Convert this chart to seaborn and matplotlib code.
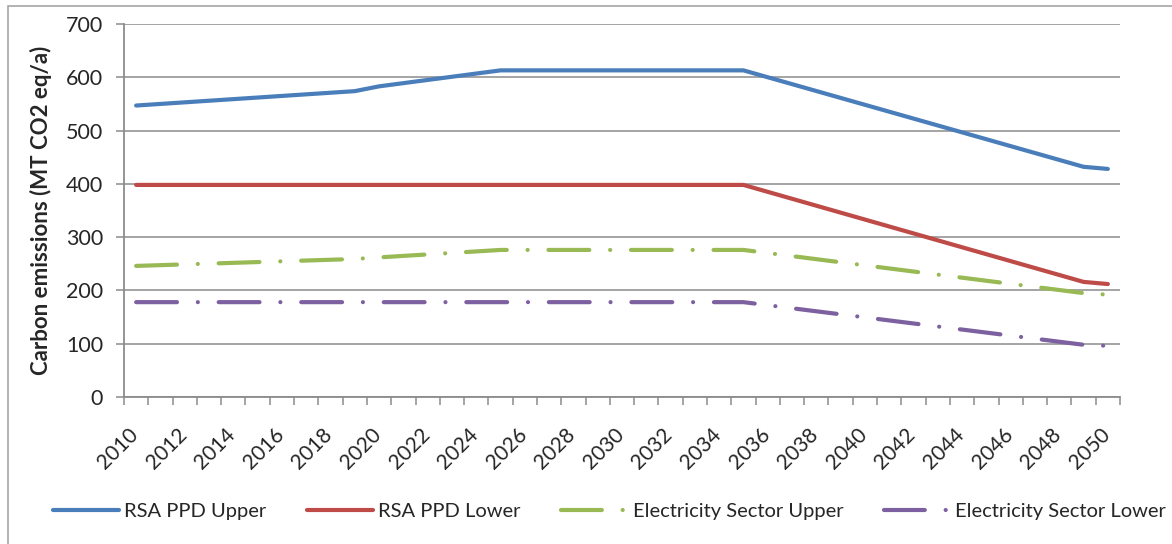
import numpy as np
import pandas as pd
import matplotlib
matplotlib.use("Agg")
import matplotlib.pyplot as plt
import matplotlib.transforms as mtransforms
from matplotlib.patches import Rectangle
import seaborn as sns

# Values (break points of each series)
upper_years = [2010, 2019, 2020, 2025, 2035, 2049, 2050]
rsa_upper = [547, 574, 583, 613, 613, 432, 428]
lower_years = [2010, 2035, 2049, 2050]
rsa_lower = [398, 398, 216, 212]
elec_upper = [246, 259, 262, 276, 276, 195, 192]
elec_lower = [178, 178, 98, 96]

series_names = ["RSA PPD Upper", "RSA PPD Lower",
                "Electricity Sector Upper", "Electricity Sector Lower"]
colors = ["#4A7EBB", "#BE4B48", "#98B954", "#7D60A0"]
x_labels = [str(y) for y in range(2010, 2051, 2)]

sns.set_theme(style="white")
plt.rcParams["font.family"] = ["Lato", "DejaVu Sans"]
plt.rcParams["lines.dash_capstyle"] = "round"
plt.rcParams["lines.solid_capstyle"] = "round"

fig = plt.figure(figsize=(11.72, 5.44), dpi=100)
ax = fig.add_axes([124 / 1172, 1 - 397 / 544, 996 / 1172, 373 / 544])

grid_col = "#8C8C8C"
for v in range(0, 701, 100):
    ax.axhline(v, color=grid_col, lw=1.1, zorder=0)

lw = 3.0
dash_dot = (9.8, 5.0, 0.01, 5.0)
data = [
    (upper_years, rsa_upper, None),
    (lower_years, rsa_lower, None),
    (upper_years, elec_upper, dash_dot),
    (lower_years, elec_lower, dash_dot),
]
for (xs, ys, dash), name, col in zip(data, series_names, colors):
    df = pd.DataFrame({"year": xs, "value": ys})
    sns.lineplot(data=df, x="year", y="value", ax=ax, color=col, lw=lw,
                 label=name, legend=False, zorder=3)
    if dash is not None:
        ax.get_lines()[-1].set_dashes(dash)

ax.set_xlim(2009.5, 2050.5)
ax.set_ylim(0, 700)
ax.set_yticks(range(0, 701, 100))
ax.set_xticks(range(2010, 2051, 2))
ax.set_xticklabels(x_labels, rotation=45, ha="right", fontsize=15)
ax.set_xticks(np.arange(2009.5, 2051, 1), minor=True)
ax.tick_params(axis="x", which="major", length=0, pad=20)
ax.tick_params(axis="x", which="minor", length=6, width=1.1, color=grid_col,
               direction="out", bottom=True)
ax.tick_params(axis="y", length=6, width=1.1, color=grid_col, direction="out",
               left=True, labelsize=15.5, pad=9)

shift = mtransforms.ScaledTranslation(6 / 100, 0, fig.dpi_scale_trans)
for lab in ax.get_xticklabels():
    lab.set_transform(lab.get_transform() + shift)

for s in ["top", "right"]:
    ax.spines[s].set_visible(False)
for s in ["left", "bottom"]:
    ax.spines[s].set_color(grid_col)
    ax.spines[s].set_linewidth(1.3)

ax.set_xlabel("")
ax.set_ylabel("Carbon emissions (MT CO2 eq/a)", fontsize=16,
              fontweight="bold")
ax.yaxis.set_label_coords(-0.072, 0.5)

handles, labels = ax.get_legend_handles_labels()
fig.legend(handles, labels, loc="center", bbox_to_anchor=(0.52, 0.059),
           ncol=4, frameon=False, fontsize=14.5, handlelength=3.3,
           handletextpad=0.25, columnspacing=2.0)

fig.patches.append(Rectangle((8 / 1172, -0.1), 1.2, (544 - 6) / 544 + 0.1,
                             transform=fig.transFigure, fill=False,
                             edgecolor="#A6A6A6", lw=1.2))

fig.savefig("out.png", dpi=100)
